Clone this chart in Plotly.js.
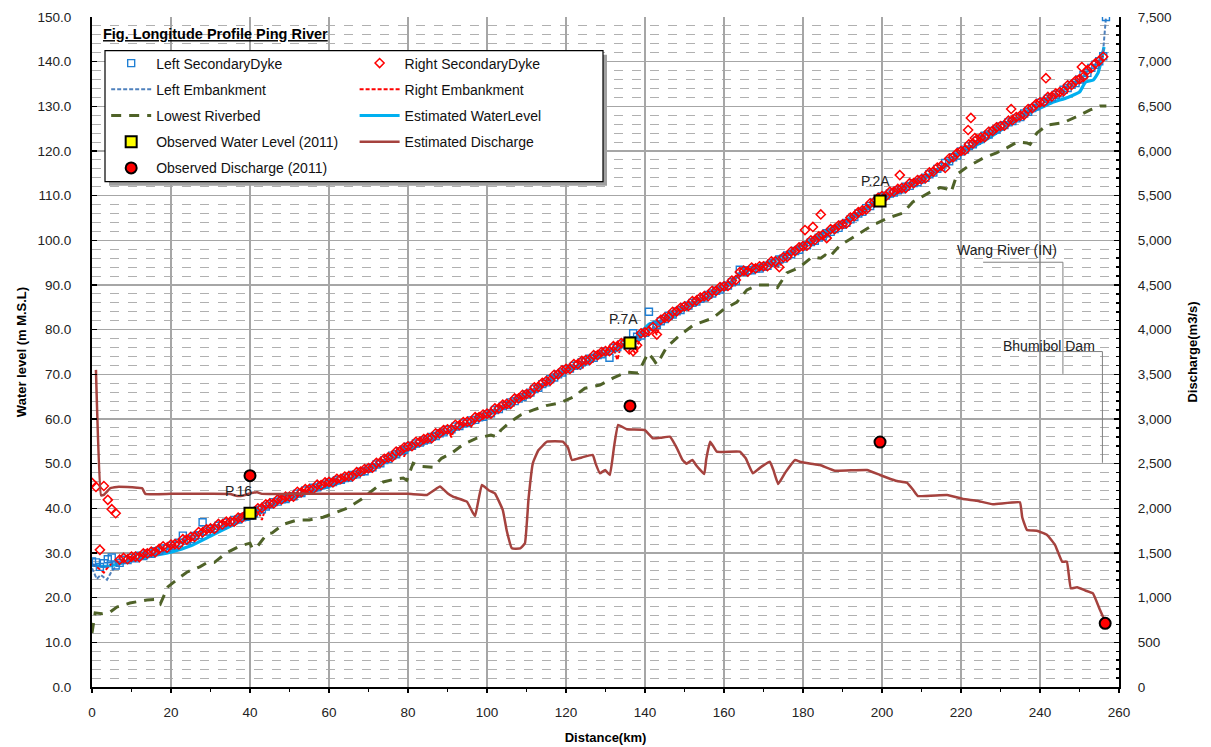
<!DOCTYPE html>
<html>
<head>
<meta charset="utf-8">
<script src="https://cdn.plot.ly/plotly-3.0.1.min.js"></script>
<style>html,body{margin:0;padding:0;background:#fff;}#chart{width:1211px;height:747px;}</style>
</head>
<body>
<div id="chart"></div>
<script>
// ---------- DATA ----------
var leftDykeKm = [0,1,2,3,4,5,6,7,8,9,10,11,12,13,14,15,16,17,18,19,20,21,22,23,24,25,26,27,28,29,30,31,32,33,34,35,36,37,38,39,40,41,42,43,44,45,46,47,48,49,50,51,52,53,54,55,56,57,58,59,60,61,62,63,64,65,66,67,68,69,70,71,72,73,74,75,76,77,78,79,80,81,82,83,84,85,86,87,88,89,90,91,92,93,94,95,96,97,98,99,100,101,102,103,104,105,106,107,108,109,110,111,112,113,114,115,116,117,118,119,120,121,122,123,124,125,126,127,128,129,130,131,132,133,134,135,136,137,138,139,140,141,142,143,144,145,146,147,148,149,150,151,152,153,154,155,156,157,158,159,160,161,162,163,164,165,166,167,168,169,170,171,172,173,174,175,176,177,178,179,180,181,182,183,184,185,186,187,188,189,190,191,192,193,194,195,196,197,198,199,200,201,202,203,204,205,206,207,208,209,210,211,212,213,214,215,216,217,218,219,220,221,222,223,224,225,226,227,228,229,230,231,232,233,234,235,236,237,238,239,240,241,242,243,244,245,246,247,248,249,250,251,252,253,254,255,256,256.7];
var leftDykeLevel = [28.1,27.9,26.9,27.7,28.6,29.0,27.2,27.8,28.5,28.4,28.9,28.8,29.4,29.3,29.9,29.8,30.4,30.5,31.0,31.1,31.6,31.7,32.3,33.9,32.8,33.1,33.8,34.0,36.9,34.8,35.4,35.5,36.1,36.2,36.8,36.9,37.4,37.5,38.0,38.1,38.4,38.9,39.6,39.8,40.4,40.9,41.4,41.5,42.0,42.1,42.6,42.7,43.3,43.4,44.0,44.1,44.6,44.7,45.2,45.3,45.8,45.9,46.3,46.4,46.8,46.9,47.5,47.6,48.2,48.3,48.9,49.2,49.8,50.1,50.8,51.1,51.8,52.1,52.8,53.1,53.8,54.0,54.5,54.7,55.2,55.4,56.0,56.2,56.8,57.0,57.6,57.7,58.3,58.4,59.0,59.1,59.7,59.8,60.4,60.5,61.1,61.3,62.0,62.2,62.9,63.1,63.7,64.0,64.6,64.9,65.5,65.9,66.7,67.0,67.8,68.2,68.9,69.3,70.0,70.4,71.1,71.3,71.9,72.1,72.7,72.9,73.5,73.7,74.3,74.5,75.1,73.7,75.9,76.1,76.7,76.9,77.5,79.2,78.4,78.7,79.3,84.0,80.6,81.1,81.9,82.4,83.1,83.4,84.1,84.4,85.1,85.4,86.0,86.3,86.9,87.2,87.8,88.1,88.7,89.0,89.6,89.9,90.6,90.9,93.4,92.9,93.3,93.3,93.7,93.7,94.1,94.3,94.9,95.1,95.7,95.9,96.6,96.9,97.6,97.9,98.6,98.9,99.6,99.9,100.6,100.9,101.6,101.9,102.5,102.8,103.5,103.9,104.7,105.2,106.0,106.4,107.2,107.7,108.5,109.0,109.8,110.0,110.5,110.7,111.2,111.4,112.0,112.2,112.8,113.0,113.6,114.0,114.8,115.2,116.0,116.4,117.3,117.7,118.6,119.0,119.9,120.3,121.1,121.5,122.3,122.7,123.4,123.7,124.5,124.8,125.5,125.8,126.4,126.7,127.3,127.6,128.4,128.8,129.6,130.0,130.8,131.1,131.7,132.0,132.6,132.9,133.7,134.1,134.8,135.2,136.0,137.0,137.5,138.6,139.3,140.1,141.2,150.0];

var rightDykeKm = [0,1,2,3,4,5,6,7,8,9,10,11,12,13,14,15,16,17,18,19,20,21,22,23,24,25,26,27,28,29,30,31,32,33,34,35,36,37,38,39,40,41,42,43,44,45,46,47,48,49,50,51,52,53,54,55,56,57,58,59,60,61,62,63,64,65,66,67,68,69,70,71,72,73,74,75,76,77,78,79,80,81,82,83,84,85,86,87,88,89,90,91,92,93,94,95,96,97,98,99,100,101,102,103,104,105,106,107,108,109,110,111,112,113,114,115,116,117,118,119,120,121,122,123,124,125,126,127,128,129,130,131,132,133,134,135,136,137,138,139,140,141,142,143,144,145,146,147,148,149,150,151,152,153,154,155,156,157,158,159,160,161,162,163,164,165,166,167,168,169,170,171,172,173,174,175,176,177,178,179,180,181,182,183,184,185,186,187,188,189,190,191,192,193,194,195,196,197,198,199,200,201,202,203,204,205,206,207,208,209,210,211,212,213,214,215,216,217,218,219,220,221,222,223,224,225,226,227,228,229,230,231,232,233,234,235,236,237,238,239,240,241,242,243,244,245,246,247,248,249,250,251,252,253,254,255,256];
var rightDykeLevel = [45.7,44.8,30.7,45.0,41.9,39.8,38.9,28.5,28.9,28.6,29.2,29.2,29.1,29.9,29.9,30.3,30.2,30.9,31.5,31.2,31.9,32.0,31.9,33.1,33.0,33.6,33.6,34.7,34.6,35.3,35.5,35.4,36.5,36.4,37.0,37.0,37.0,37.9,37.9,38.6,38.7,38.8,40.0,40.1,40.9,41.1,41.1,42.0,42.0,42.6,42.6,42.6,43.7,43.6,44.3,44.3,44.3,45.3,45.2,45.8,45.9,45.8,46.6,46.6,47.1,47.2,47.2,48.1,48.2,48.8,49.0,49.1,50.2,50.3,51.1,51.4,51.5,52.7,52.8,53.6,53.9,53.9,54.9,54.9,55.5,55.7,55.7,56.8,56.8,57.5,57.7,57.6,58.7,58.6,59.3,59.4,59.4,60.4,60.4,61.0,61.2,61.2,62.4,62.4,63.2,63.4,63.4,64.6,64.6,65.4,65.6,65.8,67.1,67.2,68.1,68.5,68.6,69.9,70.0,70.9,71.2,71.2,72.3,72.3,73.0,73.2,73.2,74.3,74.3,75.0,75.2,75.2,76.3,76.3,77.0,77.2,75.6,75.2,76.5,79.2,79.4,79.7,80.6,78.9,82.2,82.7,82.8,84.0,84.1,84.9,85.2,85.3,86.4,86.5,87.2,87.5,87.5,88.7,88.7,89.5,89.7,89.8,91.0,91.1,92.9,93.2,93.0,93.9,93.7,94.2,94.2,94.2,95.3,95.3,94.0,96.2,96.3,97.5,97.6,98.4,98.7,98.8,100.0,100.1,100.9,101.2,100.5,102.5,102.5,103.3,103.6,103.8,105.1,105.4,106.3,106.7,106.9,108.3,108.5,109.5,109.9,109.9,110.9,110.9,111.5,111.7,111.7,112.8,112.8,113.5,113.7,113.9,115.2,115.4,116.3,116.7,116.2,118.3,118.6,119.5,120.0,120.2,121.5,121.7,122.6,123.0,123.1,124.3,124.5,125.3,125.6,125.7,126.8,126.9,127.6,127.9,128.1,129.4,129.6,130.5,130.9,131.0,132.1,132.2,132.9,133.2,133.4,134.7,134.8,135.7,136.1,136.6,138.1,138.6,139.6,140.2,141.1];
var rightOutlierKm = [180.5,182.5,184.5,204.5,221.8,222.5,223.5,232.7,241.5,250.6];
var rightOutlierLevel = [102.3,103.0,105.8,114.6,124.7,127.4,122.9,129.4,136.3,138.8];

var leftEmbKm = [0,1.2,2.2,3.8,4.9,6,8,10,12,14,16,18,20,22,24,26,28,30,32,34,36,38,40,42,44,46,48,50,52,54,56,58,60,62,64,66,68,70,72,74,76,78,80,82,84,86,88,90,92,94,96,98,100,102,104,106,108,110,112,114,116,118,120,122,124,126,128,130,132,134,136,138,140,142,144,146,148,150,152,154,156,158,160,162,164,166,168,170,172,174,176,178,180,182,184,186,188,190,192,194,196,198,200,202,204,206,208,210,212,214,216,218,220,222,224,226,228,230,232,234,236,238,240,242,244,246,248,250,252,254,256,256.7];
var leftEmbLevel = [26.6,24.2,25.1,24.0,25.8,27.0,28.2,28.6,29.2,29.7,30.2,30.8,31.3,32.1,32.8,33.5,34.3,35.1,35.9,36.5,37.2,37.8,38.4,39.4,40.4,41.2,41.8,42.4,43.1,43.8,44.4,45.0,45.6,46.1,46.6,47.3,48.0,48.7,49.6,50.6,51.6,52.6,53.6,54.3,55.0,55.8,56.6,57.4,58.1,58.8,59.5,60.2,60.9,61.8,62.7,63.5,64.4,65.3,66.5,67.6,68.7,69.8,70.9,71.7,72.5,73.3,74.1,74.9,75.7,76.5,77.3,78.2,79.1,80.4,81.7,82.9,83.9,84.9,85.8,86.7,87.6,88.5,89.4,90.4,92.4,93.1,93.5,93.9,94.7,95.5,96.4,97.4,98.4,99.4,100.4,101.4,102.3,103.3,104.5,105.8,107.0,108.3,109.6,110.3,111.0,111.8,112.6,113.4,114.6,115.8,117.0,118.4,119.7,120.9,122.1,123.1,124.1,125.1,126.0,126.9,128.0,129.2,130.4,131.4,132.3,133.4,134.5,135.7,137.4,139.0,142.5,150.0];

var rightEmbKm = [0,1,2,3,4,5,6,8,10,12,14,16,18,20,22,24,26,28,30,32,34,36,38,40,42,43,44,46,48,50,52,54,56,58,60,62,64,66,68,70,72,74,76,78,79,80,82,84,86,88,90,91,92,94,96,97,98,100,102,104,106,108,109.4,110,112,114,116,118,120,122,124,125,126,128,130,132,133,134,136,137.5,139,140,142,143,144,146,148,150,152,154,156,158,160,162,164,166,168,170,172,174,175,176,178,180,182,184,186,187,188,190,192,194,196,198,200,202,204,206,208,210,212,214,216,217,218,220,222,224,226,228,230,232,234,236,238,240,242,244,246,248,250,252,254,255,256];
var rightEmbLevel = [27.5,27.0,26.3,25.6,26.8,27.6,28.0,28.6,29.0,29.4,30.0,30.5,31.1,31.7,32.4,33.1,33.9,34.7,35.5,36.2,36.9,37.5,38.1,38.7,39.7,37.4,40.3,41.5,42.1,42.7,43.4,44.1,44.7,45.3,45.9,46.4,46.9,47.6,48.3,49.0,49.9,50.9,51.9,52.9,51.6,53.9,54.6,55.3,56.1,56.9,57.7,55.9,58.4,59.1,58.3,60.1,60.5,61.2,62.1,63.0,63.8,64.7,64.2,65.6,66.8,67.9,69.0,70.1,71.2,72.0,71.0,73.2,73.6,74.4,75.2,76.0,73.2,76.8,76.5,74.8,78.9,79.4,80.7,78.8,82.0,83.2,84.2,85.2,86.1,87.0,87.9,88.8,89.7,90.7,92.7,93.4,93.8,94.2,95.0,94.0,96.2,96.7,97.7,98.7,99.7,100.7,100.7,102.2,102.6,103.6,104.8,106.1,107.3,108.6,109.9,110.6,111.3,112.1,112.9,113.7,114.9,116.1,116.2,118.0,118.7,120.0,121.2,122.4,123.5,124.6,125.6,126.5,127.4,128.5,129.7,130.9,131.8,132.7,133.8,134.9,136.1,137.8,139.4,140.2,141.3];

var riverbedKm = [0,0.8,2.5,4.6,6.3,9.6,13.9,16.2,17.3,19.2,22.3,24.0,27.3,29.0,31.0,34.0,37.5,40.0,40.6,41.8,44.3,45.6,48.4,52.0,55.0,58.5,61.0,64.5,68.0,71.0,73.7,76.0,78.8,79.7,81.3,83.0,86.3,88.5,91.4,94.0,97.4,101.0,102.5,103.5,105.8,108.5,111.6,115.0,118.5,121.8,124.8,128.6,132.0,135.4,138.2,139.0,140.8,142.0,143.0,145.5,148.9,152.2,155.7,157.2,159.7,163.3,165.8,168.6,171.6,173.5,175.9,179.2,182.3,184.5,185.6,186.5,189.4,192.7,197.7,201.5,205.3,207.8,212.2,214.7,216.5,217.5,219.0,221.5,225.6,229.0,231.6,234.2,236.7,237.5,239.2,241.8,245.8,250.0,252.7,255.2,256.8];
var riverbedLevel = [12.1,16.6,16.4,16.8,17.9,18.8,19.5,19.6,18.6,22.4,24.6,25.7,26.9,27.8,27.9,30.0,31.6,32.2,31.0,31.4,34.3,34.5,36.4,37.4,37.4,38.0,38.8,40.0,41.9,44.1,45.9,46.4,46.8,46.3,50.1,49.4,49.2,51.2,52.6,54.3,55.7,56.4,56.0,57.5,59.3,60.9,62.0,63.0,63.6,64.9,66.9,67.6,69.2,70.5,70.3,71.6,74.8,73.5,72.2,76.1,78.8,81.0,82.2,82.6,84.4,86.2,88.9,90.0,90.0,89.4,92.7,94.0,96.3,96.0,96.7,96.1,98.9,100.7,103.4,105.0,106.1,108.6,110.8,111.8,111.5,110.8,114.8,116.4,118.4,119.6,120.7,122.0,121.8,121.5,124.0,125.8,126.3,128.0,129.2,130.1,130.1];

var waterKm = [0,3,5,10,15,20,25,30,35,40,45,50,55,60,65,70,75,80,85,90,95,100,105,110,115,120,125,130,133,136,138,141,146,150,155,160,164,170,175,180,185,190,195,199.5,205,210,215,220,225,230,235,240,243,247,250,251.5,253.5,254.7,255.7,256.2];
var waterLevel = [27.3,27.0,27.2,28.3,29.3,30.2,31.6,33.8,36.0,38.2,40.6,42.0,43.6,44.9,46.5,48.5,50.8,53.0,55.0,57.0,58.8,60.8,63.0,65.4,68.0,70.6,72.6,74.8,76.0,77.2,78.5,81.2,82.4,84.6,87.0,89.2,92.5,94.6,96.7,99.2,101.6,104.0,106.7,108.6,111.3,113.6,116.0,119.6,121.8,124.6,127.6,129.6,130.8,132.0,133.2,135.4,135.9,137.5,141.0,143.3];

var dischargeKm = [1.0,2.3,3.0,4.6,6.3,9.0,11.4,12.7,13.5,20,30,35,36.5,38,39.5,41.8,43,50,60,70,80,84.8,86.5,88.1,90,91.4,94.9,96.3,97,98.7,100.5,102,104,105,106.3,108.4,109.6,110.5,111.6,113,115.2,119.2,120.5,121.5,124,126.8,127.5,128.6,129.9,131.1,132.2,133.2,135.4,139.9,142,144,146.3,148,149.5,150.5,152,153,155,155.5,156.5,158.2,164,165.5,167.3,169,171.6,172.5,173.7,175.5,178,179.2,182,184.3,188.1,196.2,199.5,201.5,203.8,206.3,208,209.1,216.5,220.5,224,228.1,234.9,235.5,236.7,239.2,241.8,243.8,245.6,246.8,247.8,249.4,251.5,253.4,255.2,256.5];
var dischargeQ = [3550,2145,2150,2225,2240,2238,2231,2225,2162,2162,2162,2160,2140,2140,2160,2180,2162,2162,2162,2162,2162,2150,2200,2245,2170,2130,2075,1960,1914,2261,2200,2168,1981,1750,1552,1552,1608,2100,2504,2650,2746,2746,2680,2541,2570,2597,2500,2392,2429,2373,2700,2933,2885,2877,2784,2790,2802,2680,2541,2500,2541,2480,2384,2550,2746,2634,2634,2560,2392,2450,2522,2430,2272,2400,2541,2522,2500,2485,2421,2429,2373,2340,2306,2287,2200,2138,2149,2105,2085,2045,2067,1900,1757,1750,1702,1590,1403,1403,1105,1116,1080,1049,862,731];

var stationNames = ['P.16','P.7A','P.2A'];
var obsWlKm = [40,136.2,199.5];
var obsWl = [38.9,77.0,108.8];
var obsQKm = [40,136.2,199.5,256.5];
var obsQ = [2366,3146,2742,713];

var xTicks = [0,20,40,60,80,100,120,140,160,180,200,220,240,260];

// ---------- CHART ----------
var FONT = 'Liberation Sans, Arial, Helvetica, sans-serif';
var traces = [
  {name:'Lowest Riverbed', x:riverbedKm, y:riverbedLevel, mode:'lines', type:'scatter',
   line:{color:'#4f6228', width:3, dash:'10px,8px'}, legend:'legend', legendgroup:'g3', legendrank:3},
  {name:'Estimated WaterLevel', x:waterKm, y:waterLevel, mode:'lines', type:'scatter',
   line:{color:'#00b0f0', width:3.2, shape:'spline', smoothing:0.4}, legend:'legend2', legendgroup:'h3', legendrank:3},
  {name:'Left Embankment', x:leftEmbKm, y:leftEmbLevel, mode:'lines', type:'scatter',
   line:{color:'#4f81bd', width:2, dash:'4px,2px'}, legend:'legend', legendgroup:'g2', legendrank:2},
  {name:'Right Embankment', x:rightEmbKm, y:rightEmbLevel, mode:'lines', type:'scatter',
   line:{color:'#ff0000', width:2, dash:'4px,2px'}, legend:'legend2', legendgroup:'h2', legendrank:2},
  {name:'Left SecondaryDyke', x:leftDykeKm, y:leftDykeLevel, mode:'markers', type:'scatter',
   marker:{symbol:'square-open', size:7, color:'#1f7fd4', line:{width:1.4}}, legend:'legend', legendgroup:'g1', legendrank:1},
  {name:'Right SecondaryDyke', x:rightDykeKm.concat(rightOutlierKm), y:rightDykeLevel.concat(rightOutlierLevel), mode:'markers', type:'scatter',
   marker:{symbol:'diamond-open', size:7, color:'#ff0000', line:{width:1.5}}, legend:'legend2', legendgroup:'h1', legendrank:1},
  {name:'Estimated Discharge', x:dischargeKm, y:dischargeQ, yaxis:'y2', mode:'lines', type:'scatter',
   line:{color:'#a5423e', width:2.5, shape:'spline', smoothing:0.3}, legend:'legend2', legendgroup:'h4', legendrank:4},
  {name:'Observed Water Level (2011)', x:obsWlKm, y:obsWl, mode:'markers', type:'scatter',
   marker:{symbol:'square', size:11, color:'#ffff00', line:{color:'#000', width:2}}, legend:'legend', legendgroup:'g4', legendrank:4},
  {name:'Observed Discharge (2011)', x:obsQKm, y:obsQ, yaxis:'y2', mode:'markers', type:'scatter',
   marker:{symbol:'circle', size:11, color:'#ff0000', line:{color:'#000', width:2}}, legend:'legend', legendgroup:'g5', legendrank:5}
];

var labelShift = [[-12,22],[-6,24],[-5,20]];
var annotations = stationNames.map(function(n,i){
  return {x:obsWlKm[i], y:obsWl[i], xref:'x', yref:'y', text:n, showarrow:false,
    xshift:labelShift[i][0], yshift:labelShift[i][1], font:{family:FONT, size:14, color:'#222'}};
});
annotations.push({x:231.6, y:97.8, xref:'x', yref:'y', text:'Wang River (IN)', showarrow:false, font:{family:FONT, size:14, color:'#222'}});
annotations.push({x:242.4, y:76.4, xref:'x', yref:'y', text:'Bhumibol Dam', showarrow:false, font:{family:FONT, size:14, color:'#222'}});

var legendBase = {bgcolor:'rgba(0,0,0,0)', borderwidth:0, font:{family:FONT, size:14, color:'#111'},
  tracegroupgap:5, itemwidth:40, traceorder:'grouped', xanchor:'left', yanchor:'top', y:0.9545};
var legend1 = Object.assign({}, legendBase, {x:0.0138});
var legend2 = Object.assign({}, legendBase, {x:0.2557});

var layout = {
  width:1211, height:747,
  margin:{l:92, r:92, t:17, b:60, pad:0},
  paper_bgcolor:'#fff', plot_bgcolor:'#fff',
  font:{family:FONT, size:13.5, color:'#222'},
  title:{text:'<b><span style="text-decoration:underline">Fig. Longitude Profile Ping River</span></b>',
    x:0.0107, xref:'paper', xanchor:'left', y:1-34/747, yref:'container', yanchor:'middle',
    font:{family:FONT, size:14.5, color:'#000'}},
  showlegend:true,
  legend:legend1, legend2:legend2,
  xaxis:{range:[0,260], tickvals:xTicks, ticktext:xTicks.map(String), showgrid:true, gridcolor:'#a6a6a6', gridwidth:1.3,
    zeroline:false, showline:true, linecolor:'#000', linewidth:2, ticks:'outside', ticklen:4, tickcolor:'#000', tickwidth:1.5,
    minor:{dtick:10, ticks:'outside', ticklen:3, tickcolor:'#000', showgrid:false},
    ticklabelstandoff:8, tickfont:{size:13.5, color:'#222'},
    title:{text:'<b>Distance(km)</b>', font:{size:13, color:'#000'}, standoff:14}},
  yaxis:{range:[0,150], dtick:10, tick0:0, tickformat:'.1f', showgrid:true, gridcolor:'#a6a6a6', gridwidth:1.3,
    zeroline:false, showline:true, linecolor:'#000', linewidth:2, ticks:'inside', ticklen:5, tickcolor:'#000', tickwidth:1.5,
    minor:{dtick:2, showgrid:true, griddash:'dash', gridcolor:'#b0b0b0', gridwidth:1, ticks:''},
    ticklabelstandoff:16, tickfont:{size:13.5, color:'#222'},
    title:{text:'<b>Water level (m M.S.L)</b>', font:{size:13, color:'#000'}, standoff:8}},
  yaxis2:{range:[0,7500], dtick:500, tick0:0, tickformat:',d', overlaying:'y', side:'right', showgrid:false, zeroline:false,
    showline:true, linecolor:'#000', linewidth:2, ticks:'inside', ticklen:5, tickcolor:'#000', tickwidth:1.5,
    minor:{dtick:100, ticks:'inside', ticklen:3, tickcolor:'#000', showgrid:false},
    ticklabelstandoff:14, tickfont:{size:13.5, color:'#222'},
    title:{text:'<b>Discharge(m3/s)</b>', font:{size:13, color:'#000'}, standoff:17}},
  annotations:annotations,
  shapes:[
    {type:'rect', xref:'paper', yref:'paper', x0:0.01656, x1:0.50146, y0:0.74821, y1:0.94373, layer:'above',
      fillcolor:'#a0a0a0', line:{width:0}},
    {type:'rect', xref:'paper', yref:'paper', x0:0.01266, x1:0.49757, y0:0.75418, y1:0.94970, layer:'above',
      fillcolor:'#ffffff', line:{color:'#000', width:1.2}},
    {type:'path', xref:'x', yref:'y', path:'M225.6,95.1 L245.8,95.1 L245.8,70.1', line:{color:'#808080', width:1}, layer:'above'},
    {type:'path', xref:'x', yref:'y', path:'M235.6,75.1 L255.8,75.1 L255.8,50.2', line:{color:'#808080', width:1}, layer:'above'}
  ]
};

Plotly.newPlot('chart', traces, layout, {displayModeBar:false, staticPlot:true});
</script>
</body>
</html>
